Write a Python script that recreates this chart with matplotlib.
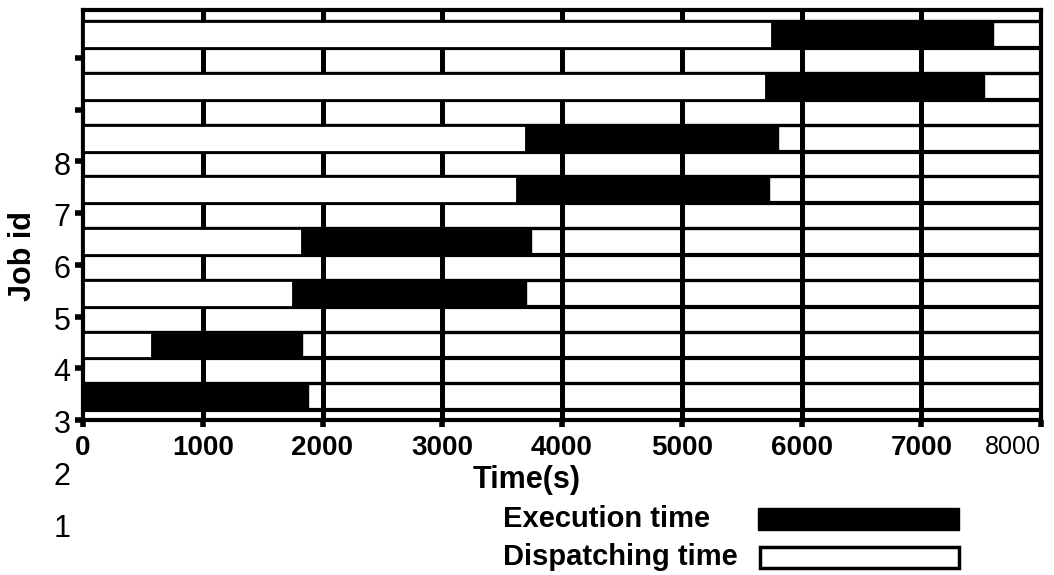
import numpy as np
import matplotlib
matplotlib.use("Agg")
import matplotlib.pyplot as plt
from matplotlib.patches import Rectangle
import matplotlib.transforms as mtransforms

plt.rcParams['font.family'] = ['Liberation Sans', 'DejaVu Sans']

# data
jobs = [1, 2, 3, 4, 5, 6, 7, 8]
dispatch = [0, 575, 1750, 1830, 3625, 3700, 5700, 5750]
execution = [1875, 1250, 1950, 1910, 2100, 2100, 1820, 1850]
x_ticks = [0, 1000, 2000, 3000, 4000, 5000, 6000, 7000, 8000]
y_ticks = [3, 4, 5, 6, 7, 8, 9, 10]
y_labels = ['1', '2', '3', '4', '5', '6', '7', '8']

row_offset = 2.45   # bars sit between the tick marks in the scan
bar_h = 0.52

fig = plt.figure(figsize=(10.54, 5.75), dpi=100)
ax = fig.add_axes([83 / 1054, 1 - 420 / 575, (1041 - 83) / 1054, 410 / 575])

ypos = np.array(jobs) + row_offset

# grid: thick vertical lines + horizontal lines along every bar row
for xt in x_ticks[1:-1]:
    ax.axvline(xt, color='black', lw=3.6, zorder=1)
for y in ypos:
    ax.axhline(y - bar_h / 2, color='black', lw=3, zorder=1)
    ax.axhline(y + bar_h / 2, color='black', lw=2.4, zorder=1)

ax.barh(ypos, dispatch, height=bar_h, color='white', edgecolor='black',
        lw=2, zorder=3)
ax.barh(ypos, execution, left=dispatch, height=bar_h, color='black',
        edgecolor='black', lw=1, zorder=3)

ax.set_xlim(0, 8000)
ax.set_ylim(3, 10.93)
ax.set_xticks(x_ticks)
ax.set_xticklabels([str(v) for v in x_ticks], fontsize=20, fontweight='bold')
last = ax.get_xticklabels()[-1]
last.set_fontweight('normal')
last.set_fontsize(18)
last.set_horizontalalignment('right')
ax.set_yticks(y_ticks)
ax.set_yticklabels([])
ax.tick_params(axis='x', direction='out', length=5, width=4, pad=6)
ax.tick_params(axis='y', direction='out', length=6, width=4)
for s in ax.spines.values():
    s.set_linewidth(3)

# y labels in the scan are shifted: label k sits at data value k
trans = mtransforms.blended_transform_factory(ax.transAxes, ax.transData)
for lab in y_labels:
    ax.text(-0.013, float(lab) - 0.1, lab, transform=trans, ha='right',
            va='center', fontsize=22, clip_on=False)

fig.text(23 / 1054, 1 - 256 / 575, 'Job id', rotation=90, ha='center',
         va='center', fontsize=22, fontweight='bold')
fig.text(527 / 1054, 1 - 480 / 575, 'Time(s)', ha='center', va='center',
         fontsize=22, fontweight='bold')

# legend drawn by hand (labels left aligned, boxes aligned)
fig.text(503 / 1054, 1 - 519 / 575, 'Execution time', ha='left', va='center',
         fontsize=21, fontweight='bold')
fig.text(503 / 1054, 1 - 557 / 575, 'Dispatching time', ha='left',
         va='center', fontsize=21, fontweight='bold')
fig.patches.append(Rectangle((758 / 1054, 1 - 530 / 575), 201 / 1054, 22 / 575,
                             transform=fig.transFigure, facecolor='black',
                             edgecolor='black'))
fig.patches.append(Rectangle((760 / 1054, 1 - 568 / 575), 199 / 1054, 21 / 575,
                             transform=fig.transFigure, facecolor='white',
                             edgecolor='black', lw=2.5))

fig.savefig('out.png', dpi=100)
